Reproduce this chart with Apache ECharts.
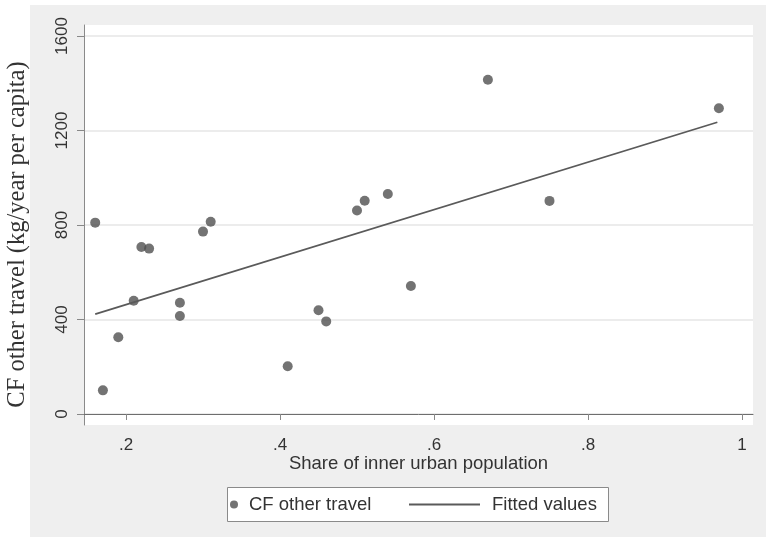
<!DOCTYPE html>
<html>
<head>
<meta charset="utf-8">
<script src="https://cdn.jsdelivr.net/npm/echarts@6/dist/echarts.min.js"></script>
<style>html,body{margin:0;padding:0;background:#fff}#c{width:766px;height:542px}</style>
</head>
<body>
<div id="c"></div>
<script>
// Share of inner urban population (x) and CF other travel (y)
var shareInner = [0.16, 0.17, 0.19, 0.21, 0.22, 0.23, 0.27, 0.27, 0.30, 0.31, 0.41, 0.45, 0.46, 0.50, 0.51, 0.54, 0.57, 0.67, 0.75, 0.97];
var cfOther    = [810, 100, 325, 479, 707, 700, 471, 415, 772, 814, 202, 439, 392, 861, 903, 931, 542, 1415, 902, 1294];
// Fitted values line endpoints
var fitX = [0.16, 0.968];
var fitY = [423, 1235];
// Ticks
var xTicks = [0.2, 0.4, 0.6, 0.8, 1.0];
var xTickLabels = ['.2', '.4', '.6', '.8', '1'];
var yTicks = [0, 400, 800, 1200, 1600];
var yTickLabels = ['0', '400', '800', '1200', '1600'];

var scatterData = shareInner.map(function (x, i) { return [x, cfOther[i]]; });
var fitData = fitX.map(function (x, i) { return [x, fitY[i]]; });

var chart = echarts.init(document.getElementById('c'), null, { renderer: 'canvas' });
var sans = 'Liberation Sans, Arial, sans-serif';
chart.setOption({
  animation: false,
  backgroundColor: '#ffffff',
  graphic: [{
    type: 'rect', z: -10, silent: true,
    shape: { x: 30, y: 5, width: 736, height: 532 },
    style: { fill: '#efefef' }
  }, {
    type: 'rect', z: 10, silent: true,
    shape: { x: 227.5, y: 487.5, width: 381, height: 34 },
    style: { fill: '#ffffff', stroke: '#8a8a8a', lineWidth: 1 }
  }],
  grid: {
    left: 84, right: 13, top: 25, bottom: 117,
    show: true, backgroundColor: '#ffffff', borderWidth: 0,
    outerBoundsMode: 'none'
  },
  legend: [{
    data: ['CF other travel'],
    left: 230, top: 495, padding: 0, z: 20,
    itemWidth: 20, itemHeight: 8,
    icon: 'circle',
    textStyle: { fontFamily: sans, fontSize: 18.5, color: '#333' }
  }, {
    data: [{ name: 'Fitted values', icon: 'rect' }],
    left: 409, top: 495, padding: 0, z: 20,
    itemWidth: 71, itemHeight: 2,
    itemStyle: { color: '#5a5a5a' },
    textStyle: { fontFamily: sans, fontSize: 18.5, color: '#333', padding: [0, 0, 0, 7] }
  }],
  xAxis: {
    type: 'value',
    min: 0.14545, max: 1.01429,
    name: 'Share of inner urban population',
    nameLocation: 'middle', nameGap: 29, nameMoveOverlap: false,
    nameTextStyle: { fontFamily: sans, fontSize: 18.5, color: '#333' },
    axisLine: { show: true, lineStyle: { color: '#6e6e6e', width: 1 } },
    axisTick: { show: true, length: 6, customValues: xTicks, lineStyle: { color: '#888' } },
    axisLabel: {
      customValues: xTicks, margin: 12,
      fontFamily: sans, fontSize: 17, color: '#333',
      formatter: function (v) { var i = xTicks.findIndex(function (t) { return Math.abs(t - v) < 1e-6; }); return i >= 0 ? xTickLabels[i] : ''; }
    },
    splitLine: { show: false }
  },
  yAxis: {
    type: 'value',
    min: -46.6, max: 1646.6,
    name: 'CF other travel (kg/year per capita)',
    nameLocation: 'middle', nameGap: 54, nameMoveOverlap: false,
    nameTextStyle: { fontFamily: 'Liberation Serif, Times New Roman, serif', fontSize: 24.5, color: '#333', padding: [0, 19, 0, 0] },
    axisLine: { show: true, lineStyle: { color: '#8a8a8a', width: 1 } },
    axisTick: { show: true, length: 7, customValues: yTicks, lineStyle: { color: '#888' } },
    axisLabel: {
      customValues: yTicks, margin: 13, rotate: 90,
      fontFamily: sans, fontSize: 17, color: '#333',
      formatter: function (v) { var i = yTicks.indexOf(Math.round(v)); return i >= 0 ? yTickLabels[i] : ''; }
    },
    splitLine: { show: true, lineStyle: { color: '#ececec', width: 2 } }
  },
  series: [{
    name: 'CF other travel',
    type: 'scatter',
    data: scatterData,
    symbol: 'circle', symbolSize: 10,
    itemStyle: { color: '#505050' }
  }, {
    name: 'Fitted values',
    type: 'line',
    data: fitData,
    showSymbol: false, symbol: 'none',
    lineStyle: { color: '#5a5a5a', width: 1.8 },
    itemStyle: { color: '#5a5a5a' }
  }]
});
</script>
</body>
</html>
